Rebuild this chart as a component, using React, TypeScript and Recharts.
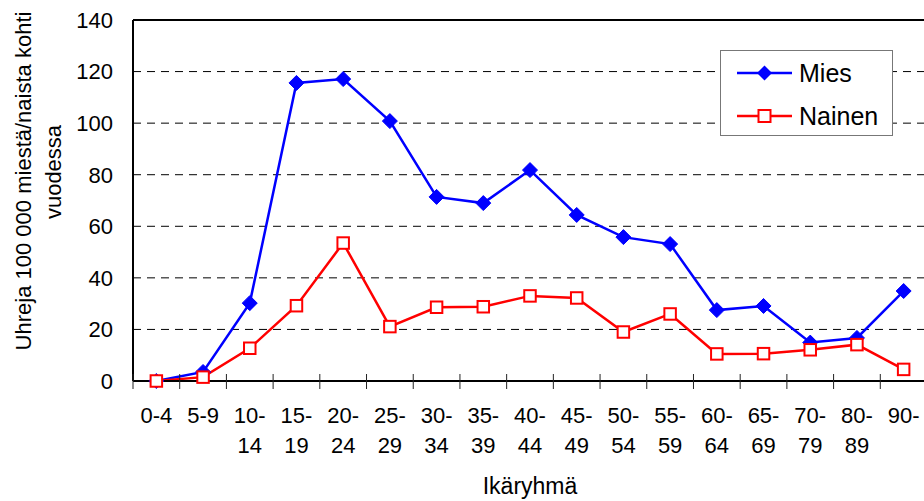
import React from "react";
import {
  LineChart,
  Line,
  XAxis,
  YAxis,
  CartesianGrid,
  Legend,
  ReferenceLine,
} from "recharts";

const ageGroups = [
  "0-4", "5-9", "10-14", "15-19", "20-24", "25-29", "30-34", "35-39", "40-44",
  "45-49", "50-54", "55-59", "60-64", "65-69", "70-79", "80-89", "90-",
];
const mies = [0, 3.5, 30.2, 115.6, 117.1, 100.8, 71.4, 69, 81.8, 64.4, 55.8, 53.1, 27.5, 29.1, 14.9, 16.7, 34.9];
const nainen = [0, 1.5, 12.7, 29.2, 53.5, 21.1, 28.6, 28.8, 33, 32.2, 19, 26, 10.5, 10.6, 12.1, 14.1, 4.5];
const yTicks = [0, 20, 40, 60, 80, 100, 120, 140];

const data = ageGroups.map((g, i) => ({ group: g, Mies: mies[i], Nainen: nainen[i] }));

const FONT = "'Liberation Sans', Arial, sans-serif";
const CHART_W = 930;
const CHART_H = 501;
const PLOT_LEFT = 133;
const PLOT_RIGHT = 927;
const PLOT_TOP = 20;
const PLOT_BOTTOM = 381;
const HALF_BAND = (PLOT_RIGHT - PLOT_LEFT) / ageGroups.length / 2;

function AgeTick(props: any) {
  const { x, y, payload } = props;
  const label: string = payload.value;
  const lines = label.length > 3 ? [label.slice(0, 3), label.slice(3)] : [label];
  return (
    <g>
      <line x1={x - HALF_BAND} x2={x - HALF_BAND} y1={y - 7} y2={y + 8} stroke="#222" strokeWidth={1} />
      {lines.map((t, i) => (
        <text key={i} x={x} y={y + 42 + i * 30} textAnchor="middle" fontSize={22} fill="#000" fontFamily={FONT}>
          {t}
        </text>
      ))}
    </g>
  );
}

function Diamond(props: any) {
  const { cx, cy } = props;
  if (cx == null || cy == null) return null;
  const r = 7.5;
  return (
    <polygon
      points={`${cx},${cy - r} ${cx + r},${cy} ${cx},${cy + r} ${cx - r},${cy}`}
      fill="#0000FF"
      stroke="#0000FF"
      strokeWidth={1}
    />
  );
}

function Square(props: any) {
  const { cx, cy } = props;
  if (cx == null || cy == null) return null;
  const s = 11.5;
  return <rect x={cx - s / 2} y={cy - s / 2} width={s} height={s} fill="#fff" stroke="#FF0000" strokeWidth={2} />;
}

function LegendBox() {
  const items = [
    { name: "Mies", color: "#0000FF", kind: "diamond" },
    { name: "Nainen", color: "#FF0000", kind: "square" },
  ];
  return (
    <div
      style={{
        width: 171,
        height: 84,
        border: "1px solid #777",
        background: "#fff",
        boxSizing: "content-box",
        position: "relative",
      }}
    >
      {items.map((it, i) => (
        <div key={it.name} style={{ position: "absolute", left: 0, top: 7 + i * 43, height: 30, display: "flex", alignItems: "center" }}>
          <svg width={72} height={30} style={{ display: "block" }}>
            <line x1={16} x2={71} y1={15} y2={15} stroke={it.color} strokeWidth={2.5} />
            {it.kind === "diamond" ? (
              <polygon points="43.5,7.5 51,15 43.5,22.5 36,15" fill={it.color} />
            ) : (
              <rect x={37.5} y={9} width={12} height={12} fill="#fff" stroke={it.color} strokeWidth={2} />
            )}
          </svg>
          <span style={{ fontFamily: FONT, fontSize: 25, color: "#000", marginLeft: 6, lineHeight: "30px" }}>{it.name}</span>
        </div>
      ))}
    </div>
  );
}

export default function App() {
  return (
    <div
      style={{
        position: "absolute",
        left: 0,
        top: 0,
        width: 924,
        height: 501,
        overflow: "hidden",
        background: "#fff",
      }}
    >
      <LineChart
        width={CHART_W}
        height={CHART_H}
        data={data}
        margin={{ top: PLOT_TOP, right: CHART_W - PLOT_RIGHT, left: 0, bottom: 0 }}
      >
        <CartesianGrid vertical={false} stroke="#000" strokeDasharray="8 6" />
        <XAxis
          dataKey="group"
          height={CHART_H - PLOT_BOTTOM}
          padding={{ left: HALF_BAND, right: HALF_BAND }}
          axisLine={{ stroke: "#000", strokeWidth: 2 }}
          tickLine={false}
          tickSize={0}
          tickMargin={0}
          interval={0}
          tick={<AgeTick />}
          label={{
            content: () => (
              <text x={530} y={494} textAnchor="middle" fontSize={23} fill="#000" fontFamily={FONT}>
                Ikäryhmä
              </text>
            ),
          }}
        />
        <YAxis
          width={PLOT_LEFT}
          domain={[0, 140]}
          ticks={yTicks}
          interval={0}
          axisLine={{ stroke: "#000", strokeWidth: 2 }}
          tickLine={false}
          tickSize={0}
          tickMargin={20}
          tick={{ fontSize: 22, fill: "#000", fontFamily: FONT }}
          label={{
            content: () => (
              <g fontFamily={FONT} fontSize={22} fill="#000">
                <text x={23} y={181} textAnchor="middle" dominantBaseline="central" transform="rotate(-90, 23, 181)">
                  Uhreja 100 000 miestä/naista kohti
                </text>
                <text x={53} y={172} textAnchor="middle" dominantBaseline="central" transform="rotate(-90, 53, 172)">
                  vuodessa
                </text>
              </g>
            ),
          }}
        />
        <ReferenceLine y={140} stroke="#000" strokeWidth={2} />
        <Legend
          layout="horizontal"
          verticalAlign="middle"
          align="center"
          content={() => <LegendBox />}
          wrapperStyle={{ position: "absolute", left: 720, top: 50, width: 173 }}
        />
        <Line
          type="linear"
          dataKey="Mies"
          stroke="#0000FF"
          strokeWidth={2.5}
          dot={<Diamond />}
          activeDot={false}
          isAnimationActive={false}
        />
        <Line
          type="linear"
          dataKey="Nainen"
          stroke="#FF0000"
          strokeWidth={2.5}
          dot={<Square />}
          activeDot={false}
          isAnimationActive={false}
        />
      </LineChart>
    </div>
  );
}
